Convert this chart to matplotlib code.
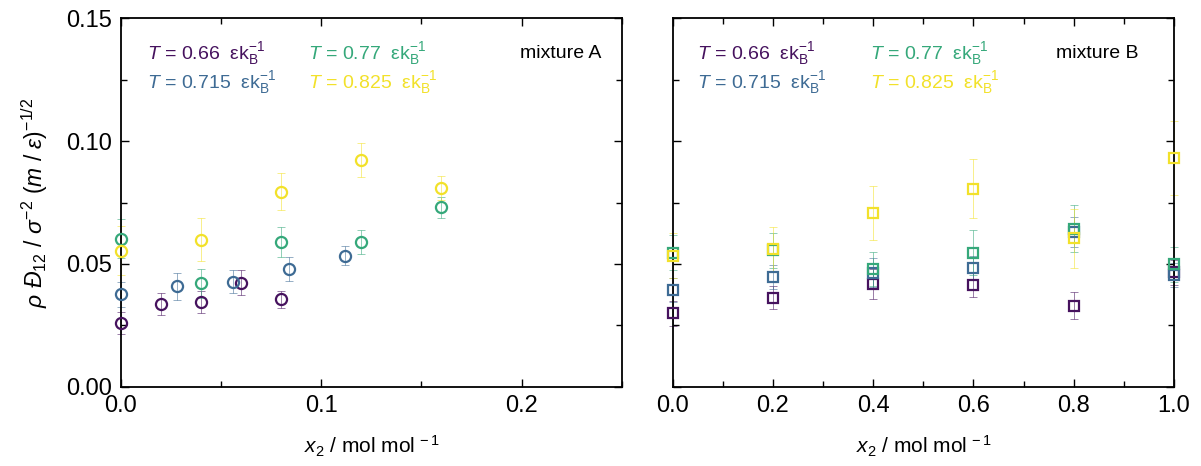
import matplotlib
matplotlib.use("Agg")
import matplotlib.pyplot as plt
from matplotlib.ticker import MultipleLocator

plt.rcParams['font.family'] = ['Liberation Sans', 'DejaVu Sans']
plt.rcParams['mathtext.fontset'] = 'custom'
plt.rcParams['mathtext.rm'] = 'Liberation Sans'
plt.rcParams['mathtext.it'] = 'Liberation Sans:italic'
plt.rcParams['mathtext.bf'] = 'Liberation Sans:bold'

temps = ["0.66", "0.715", "0.77", "0.825"]
colors = ["#46125e", "#3e6b94", "#35a87a", "#f2e12a"]

# mixture A (circles)
xa_066 = [0.0, 0.02, 0.04, 0.06, 0.08]
ya_066 = [0.0261, 0.0337, 0.0345, 0.0424, 0.0356]
ea_066 = [0.0045, 0.0045, 0.0045, 0.0050, 0.0035]

xa_0715 = [0.0, 0.028, 0.056, 0.084, 0.112]
ya_0715 = [0.0376, 0.0409, 0.0428, 0.0479, 0.0534]
ea_0715 = [0.0050, 0.0055, 0.0048, 0.0048, 0.0038]

xa_077 = [0.0, 0.04, 0.08, 0.12, 0.16]
ya_077 = [0.0603, 0.0421, 0.0589, 0.0588, 0.0731]
ea_077 = [0.0080, 0.0060, 0.0060, 0.0048, 0.0043]

xa_0825 = [0.0, 0.04, 0.08, 0.12, 0.16]
ya_0825 = [0.0553, 0.0599, 0.0794, 0.0923, 0.0809]
ea_0825 = [0.0100, 0.0088, 0.0075, 0.0070, 0.0050]

# mixture B (squares)
xb = [0.0, 0.2, 0.4, 0.6, 0.8, 1.0]
yb_066 = [0.0299, 0.0363, 0.0418, 0.0414, 0.0329, 0.0465]
eb_066 = [0.0050, 0.0048, 0.0060, 0.0050, 0.0055, 0.0050]
yb_0715 = [0.0393, 0.0447, 0.0464, 0.0483, 0.0630, 0.0455]
eb_0715 = [0.0050, 0.0050, 0.0060, 0.0050, 0.0060, 0.0050]
yb_077 = [0.0546, 0.0555, 0.0478, 0.0546, 0.0644, 0.0498]
eb_077 = [0.0070, 0.0070, 0.0070, 0.0090, 0.0095, 0.0070]
yb_0825 = [0.0534, 0.0561, 0.0708, 0.0807, 0.0604, 0.0930]
eb_0825 = [0.0090, 0.0090, 0.0110, 0.0120, 0.0120, 0.0150]

series_a = [(xa_066, ya_066, ea_066), (xa_0715, ya_0715, ea_0715),
            (xa_077, ya_077, ea_077), (xa_0825, ya_0825, ea_0825)]
series_b = [(xb, yb_066, eb_066), (xb, yb_0715, eb_0715),
            (xb, yb_077, eb_077), (xb, yb_0825, eb_0825)]

fig = plt.figure(figsize=(12.01, 4.66), dpi=100)
ax_a = fig.add_axes([0.1005, 0.1702, 0.4172, 0.7905])
ax_b = fig.add_axes([0.5600, 0.1702, 0.4175, 0.7905])


def draw(ax, series, marker, ms):
    for (x, y, e), c in zip(series, colors):
        eb = ax.errorbar(x, y, yerr=e, fmt='none', ecolor=c, elinewidth=0.7,
                         capsize=3, capthick=0.7, alpha=0.55, zorder=2)
        for art in eb.get_children():
            art.set_clip_on(False)
        ax.plot(x, y, linestyle='none', marker=marker, ms=ms, mfc='none',
                mec=c, mew=1.6, zorder=3, clip_on=False)


draw(ax_a, series_a, 'o', 8.0)
draw(ax_b, series_b, 's', 6.8)

for ax in (ax_a, ax_b):
    ax.set_ylim(0, 0.15)
    ax.yaxis.set_major_locator(MultipleLocator(0.05))
    ax.yaxis.set_minor_locator(MultipleLocator(0.025))
    ax.tick_params(which='both', direction='in', top=True, right=True,
                   labelsize=17, width=1.0, pad=6)
    ax.tick_params(which='major', length=6)
    ax.tick_params(which='minor', length=4)
    for s in ax.spines.values():
        s.set_linewidth(1.3)
    ax.set_xlabel(r'$x_2$ / mol mol$^{\,-1}$', fontsize=15, labelpad=12)

ax_a.set_xlim(0, 0.25)
ax_a.xaxis.set_major_locator(MultipleLocator(0.1))
ax_a.xaxis.set_minor_locator(MultipleLocator(0.05))
ax_a.yaxis.set_major_formatter(plt.FuncFormatter(lambda v, p: f"{v:.2f}"))
ax_a.xaxis.set_major_formatter(plt.FuncFormatter(lambda v, p: f"{v:.1f}"))

ax_b.set_xlim(0, 1.0)
ax_b.xaxis.set_major_locator(MultipleLocator(0.2))
ax_b.xaxis.set_minor_locator(MultipleLocator(0.1))
ax_b.xaxis.set_major_formatter(plt.FuncFormatter(lambda v, p: f"{v:.1f}"))
ax_b.tick_params(labelleft=False)

ax_a.set_ylabel(r'$\rho\ Đ_{12}$ / $\sigma^{-2}$ $(m\ /\ \varepsilon)^{-1/2}$',
                fontsize=16.5, labelpad=12)

# temperature labels
label_pos_a = [(0.052, 0.905), (0.052, 0.826), (0.374, 0.905), (0.374, 0.826)]
label_pos_b = [(0.049, 0.905), (0.049, 0.826), (0.394, 0.905), (0.394, 0.826)]
for ax, pos in ((ax_a, label_pos_a), (ax_b, label_pos_b)):
    for t, c, (px, py) in zip(temps, colors, pos):
        ax.text(px, py, r'$T$ = ' + t + r'  εk$_\mathrm{B}^{-1}$',
                transform=ax.transAxes, color=c, fontsize=14,
                ha='left', va='center')

ax_a.text(0.96, 0.905, 'mixture A', transform=ax_a.transAxes, fontsize=14,
          ha='right', va='center')
ax_b.text(0.93, 0.905, 'mixture B', transform=ax_b.transAxes, fontsize=14,
          ha='right', va='center')

fig.savefig('out.png', dpi=100)
